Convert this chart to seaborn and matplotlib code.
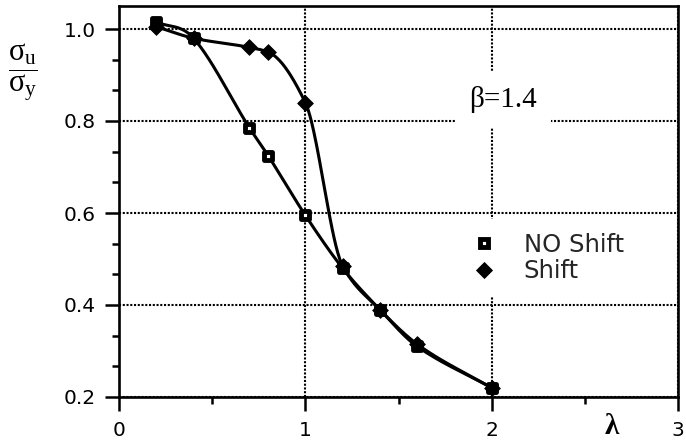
import numpy as np
import pandas as pd
import matplotlib
matplotlib.use("Agg")
import matplotlib.pyplot as plt
from matplotlib.lines import Line2D
from matplotlib.ticker import MultipleLocator
import seaborn as sns

# Slenderness values and normalised ultimate strength
lam = [0.2, 0.4, 0.7, 0.8, 1.0, 1.2, 1.4, 1.6, 2.0]
no_shift = [1.015, 0.980, 0.785, 0.725, 0.595, 0.480, 0.390, 0.310, 0.220]
shift = [1.005, 0.980, 0.960, 0.950, 0.840, 0.485, 0.390, 0.315, 0.220]

x_ticks = [0, 1, 2, 3]
x_tick_labels = ["0", "1", "2", "3"]
y_ticks = [0.2, 0.4, 0.6, 0.8, 1.0]
y_tick_labels = ["0.2", "0.4", "0.6", "0.8", "1.0"]
series_names = ["NO Shift", "Shift"]
beta_label = "β=1.4"


def hermite_curve(x, y, monotone=True, n=40):
    """Piecewise-cubic curve through the points.

    monotone=True uses weighted harmonic-mean tangents (PCHIP),
    otherwise plain central-difference (Catmull-Rom style) tangents.
    """
    x = np.asarray(x, float)
    y = np.asarray(y, float)
    h = np.diff(x)
    d = np.diff(y) / h
    m = np.zeros_like(y)
    m[0], m[-1] = d[0], d[-1]
    for k in range(1, len(x) - 1):
        if monotone:
            if d[k - 1] * d[k] > 0:
                w1 = 2 * h[k] + h[k - 1]
                w2 = h[k] + 2 * h[k - 1]
                m[k] = (w1 + w2) / (w1 / d[k - 1] + w2 / d[k])
        else:
            m[k] = (y[k + 1] - y[k - 1]) / (x[k + 1] - x[k - 1])
    xs, ys = [], []
    for i in range(len(x) - 1):
        t = np.linspace(0, 1, n, endpoint=(i == len(x) - 2))
        h00 = 2 * t**3 - 3 * t**2 + 1
        h10 = t**3 - 2 * t**2 + t
        h01 = -2 * t**3 + 3 * t**2
        h11 = t**3 - t**2
        xs.append(x[i] + t * h[i])
        ys.append(h00 * y[i] + h10 * h[i] * m[i] + h01 * y[i + 1]
                  + h11 * h[i] * m[i + 1])
    return np.concatenate(xs), np.concatenate(ys)


sns.set_theme(style="white")
plt.rcParams["font.family"] = ["DejaVu Sans"]
plt.rcParams["mathtext.fontset"] = "custom"
plt.rcParams["mathtext.rm"] = "Liberation Serif"
plt.rcParams["mathtext.it"] = "Liberation Serif"

fig = plt.figure(figsize=(6.86, 4.42), dpi=100)
W, H = 686, 442
ax = fig.add_axes([119 / W, 1 - 397 / H, (678 - 119) / W, (397 - 6) / H])

points = pd.DataFrame({
    "lam": lam * 2,
    "ratio": no_shift + shift,
    "case": [series_names[0]] * len(lam) + [series_names[1]] * len(lam),
})

curves = []
for name, vals, mono in zip(series_names, [no_shift, shift], [False, True]):
    cx, cy = hermite_curve(lam, vals, monotone=mono)
    curves.append(pd.DataFrame({"lam": cx, "ratio": cy, "case": name}))
curves = pd.concat(curves, ignore_index=True)

sns.lineplot(data=curves, x="lam", y="ratio", units="case", estimator=None,
             sort=False, color="black", linewidth=2.2, ax=ax, legend=False,
             zorder=3)

sq = points[points["case"] == series_names[0]]
dm = points[points["case"] == series_names[1]]
sns.scatterplot(data=sq, x="lam", y="ratio", marker="s", s=34,
                facecolor="white", edgecolor="black", linewidth=3.5,
                ax=ax, legend=False, zorder=4)
sns.scatterplot(data=dm, x="lam", y="ratio", marker="D", s=64,
                color="black", edgecolor="black", linewidth=0.6,
                ax=ax, legend=False, zorder=5)

ax.set_xlim(0, 3)
ax.set_ylim(0.2, 1.05)
ax.set_xticks(x_ticks)
ax.set_xticklabels(x_tick_labels)
ax.set_yticks(y_ticks)
ax.set_yticklabels(y_tick_labels)
ax.xaxis.set_minor_locator(MultipleLocator(0.5))
ax.yaxis.set_minor_locator(MultipleLocator(0.2 / 3))
ax.tick_params(axis="both", which="major", direction="out", length=10,
               width=1.8, color="black", labelsize=14.5, labelcolor="black")
ax.tick_params(axis="x", which="major", pad=7)
ax.tick_params(axis="y", which="major", pad=6.5)
ax.tick_params(axis="both", which="minor", direction="out", length=5,
               width=1.8, color="black")
ax.tick_params(bottom=True, left=True, which="both")

ax.set_xlabel("")
ax.set_ylabel("")
for sp in ax.spines.values():
    sp.set_color("black")
    sp.set_linewidth(1.9)

ax.grid(True, which="major", color="black", linestyle=(0, (1, 0.8)),
        linewidth=1.5)
ax.set_axisbelow(True)

# Parameter annotation, drawn on a white patch over the grid
ax.text(2.06, 0.846, beta_label, fontsize=21, family="Liberation Serif",
        ha="center", va="center", color="black", zorder=6,
        bbox=dict(facecolor="white", edgecolor="none", pad=10))

handles = [
    Line2D([], [], linestyle="none", marker="s", markersize=5.8,
           markerfacecolor="white", markeredgecolor="black",
           markeredgewidth=3.5),
    Line2D([], [], linestyle="none", marker="D", markersize=8.0,
           markerfacecolor="black", markeredgecolor="black",
           markeredgewidth=0.6),
]
leg = ax.legend(handles, series_names, loc="center left",
                bbox_to_anchor=(1.82, 0.502), bbox_transform=ax.transData,
                frameon=True, fancybox=False, facecolor="white",
                edgecolor="none", framealpha=1, fontsize=17.5,
                handlelength=1.0, handletextpad=1.15, labelspacing=0.1,
                borderpad=0.55, borderaxespad=0)
leg.set_zorder(6)

# Axis titles
fig.text(23 / W, 1 - 72 / H, r"$\dfrac{\sigma_u}{\sigma_y}$", fontsize=22,
         ha="center", va="center", color="black")
fig.text(612 / W, 1 - 426 / H, "λ", fontsize=21, family="Liberation Serif",
         fontweight="bold", ha="center", va="center", color="black")

fig.savefig("out.png", dpi=100, facecolor="white")
